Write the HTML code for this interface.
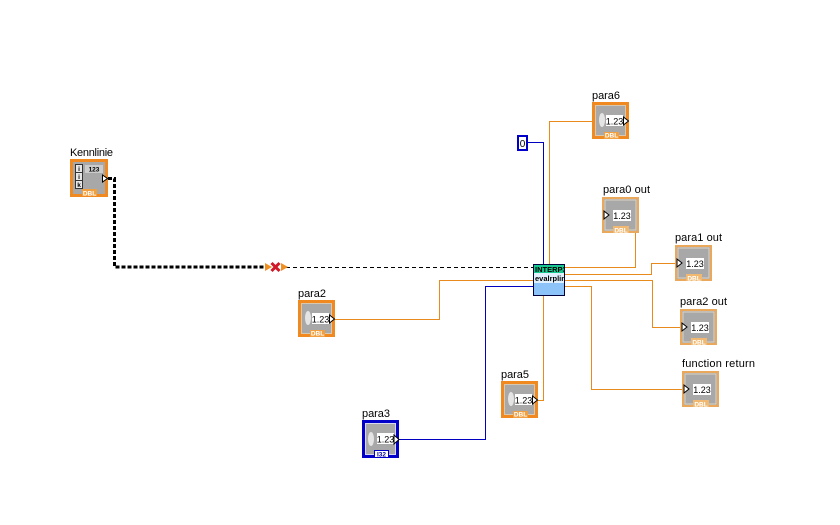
<!DOCTYPE html>
<html><head><meta charset="utf-8"><style>
html,body{margin:0;padding:0;background:#fff}
svg{display:block}
text{font-family:"Liberation Sans",sans-serif;fill:#000}
.l{font-size:11px}
.v{font-size:9px;text-anchor:middle}
.d{font-size:6.5px;font-weight:bold;fill:#fff;text-anchor:middle}
</style></head><body>
<svg width="840" height="525" viewBox="0 0 840 525" xmlns="http://www.w3.org/2000/svg" shape-rendering="crispEdges">
<defs>
<g id="ctl">
<rect x="1.5" y="1.5" width="34" height="34" fill="#a8a8a8" stroke="#f08a20" stroke-width="3"/>
<rect x="3.5" y="3.5" width="30" height="30" fill="none" stroke="#d8c8b0" stroke-width="1"/>
<rect x="12" y="30" width="15" height="7" fill="#f0a040"/>
<ellipse cx="10" cy="18" rx="3" ry="7" fill="#e4e4e4" shape-rendering="auto"/>
<rect x="14" y="13" width="17" height="11" fill="#fff"/>
<path d="M31.500 15L36.500 19L31.500 23Z" fill="#fff" stroke="#000" stroke-width="1" shape-rendering="auto"/>
</g>
<g id="ind">
<rect x="1" y="1" width="35" height="34" fill="#a8a8a8" stroke="#eaa85c" stroke-width="2"/>
<rect x="3" y="3" width="31" height="30" fill="none" stroke="#dcd4c4" stroke-width="1"/>
<rect x="11" y="29" width="16" height="7" fill="#f0b870"/>
<rect x="11" y="13" width="18" height="11" fill="#fff"/>
<path d="M2 14L7 18L2 22Z" fill="#fff" stroke="#000" stroke-width="1" shape-rendering="auto"/>
</g>
</defs>

<!-- wires -->
<g fill="none" stroke="#e88a1c" stroke-width="1">
<path d="M592 121.500H549.500V265"/>
<path d="M565 267.500H635.500V233"/>
<path d="M565 274.500H651.500V263.500H677"/>
<path d="M565 280.500H652.500V327.500H682"/>
<path d="M565 286.500H591.500V389.500H684"/>
<path d="M335 319.500H439.500V280.500H534"/>
<path d="M538 400.500H543.500V296"/>
</g>
<g fill="none" stroke="#0000c0" stroke-width="1">
<path d="M527 142.500H543.500V265"/>
<path d="M399 439.500H485.500V286.500H534"/>
</g>
<path d="M286 267.500H534" stroke="#000" stroke-width="1" stroke-dasharray="4 3" fill="none"/>
<path d="M108 178.500H114.500V267H266" fill="none" stroke="#000" stroke-width="3" stroke-dasharray="4 2"/>

<!-- broken wire marker -->
<g shape-rendering="auto">
<path d="M265 263L272 267L265 271Z" fill="#f09020"/>
<path d="M281 263L288 267L281 271Z" fill="#f09020"/>
<path d="M271.500 263L279.500 271M279.500 263L271.500 271" stroke="#d01828" stroke-width="3" fill="none"/>
</g>

<!-- Kennlinie -->
<rect x="71.500" y="160.500" width="35" height="35" fill="#a8a8a8" stroke="#f08a20" stroke-width="3"/>
<rect x="75.500" y="164.500" width="7" height="24" fill="#e8e8e8" stroke="#333" stroke-width="1"/>
<path d="M75 172.500H83M75 180.500H83" stroke="#333" stroke-width="1"/>
<text x="79" y="171" font-size="6.500" font-weight="bold" text-anchor="middle">i</text>
<text x="79" y="179" font-size="6.500" font-weight="bold" text-anchor="middle">i</text>
<text x="79" y="187" font-size="6.500" font-weight="bold" text-anchor="middle">k</text>
<rect x="85" y="165" width="18" height="8" fill="#ccc"/>
<text x="94" y="171.500" font-size="6.500" font-weight="bold" text-anchor="middle">123</text>
<path d="M102.500 175L107.500 178.500L102.500 182Z" fill="#fff" stroke="#000" shape-rendering="auto"/>
<rect x="82" y="189" width="15" height="7" fill="#f0a040"/>
<text class="d" x="89.500" y="195.500">DBL</text>
<text class="l" x="70" y="156" textLength="43">Kennlinie</text>

<!-- controls -->
<use href="#ctl" x="592" y="102"/><text class="v" x="614.500" y="124.500">1.23</text><text class="d" x="611.500" y="137.500">DBL</text><text class="l" x="592" y="99" textLength="28">para6</text>
<use href="#ctl" x="298" y="300"/><text class="v" x="320.500" y="322.500">1.23</text><text class="d" x="317.500" y="335.500">DBL</text><text class="l" x="298" y="297" textLength="28">para2</text>
<use href="#ctl" x="501" y="381"/><text class="v" x="523.500" y="403.500">1.23</text><text class="d" x="520.500" y="416.500">DBL</text><text class="l" x="501" y="378" textLength="28">para5</text>

<!-- para3 -->
<rect x="363.500" y="421.500" width="34" height="35" fill="#a8a8a8" stroke="#0000c8" stroke-width="3"/>
<rect x="365.500" y="423.500" width="30" height="31" fill="none" stroke="#d8d8f0" stroke-width="1"/>
<ellipse cx="371" cy="439" rx="3" ry="7" fill="#e4e4e4" shape-rendering="auto"/>
<rect x="377" y="433" width="17" height="11" fill="#fff"/>
<path d="M394 435L399 439.500L394 444Z" fill="#fff" stroke="#000" shape-rendering="auto"/>
<rect x="374.500" y="450.500" width="14" height="7" fill="#fff" stroke="#0000c8"/>
<text x="381.500" y="456.500" font-size="6.500" font-weight="bold" text-anchor="middle" style="fill:#0000a0">I32</text>
<text class="v" x="385.500" y="442.500">1.23</text>
<text class="l" x="362" y="417" textLength="28">para3</text>

<!-- indicators -->
<use href="#ind" x="602" y="197"/><text class="v" x="622" y="219">1.23</text><text class="d" x="621" y="232.500">DBL</text><text class="l" x="603" y="193" textLength="47">para0 out</text>
<use href="#ind" x="675" y="245"/><text class="v" x="695" y="267">1.23</text><text class="d" x="694" y="280.500">DBL</text><text class="l" x="675" y="241" textLength="47">para1 out</text>
<use href="#ind" x="680" y="309"/><text class="v" x="700" y="331">1.23</text><text class="d" x="699" y="344.500">DBL</text><text class="l" x="680" y="305" textLength="47">para2 out</text>
<use href="#ind" x="682" y="371"/><text class="v" x="702" y="393">1.23</text><text class="d" x="701" y="406.500">DBL</text><text class="l" x="682" y="367" textLength="73">function return</text>

<!-- constant 0 -->
<rect x="518" y="136" width="9" height="14" fill="#fff" stroke="#0000c8" stroke-width="2"/>
<text x="522.500" y="147" font-size="10" text-anchor="middle">0</text>

<!-- call library node -->
<rect x="533.500" y="264.500" width="31" height="31" fill="#8cc4fa" stroke="#00003c" stroke-width="1"/>
<rect x="534" y="265" width="30" height="8" fill="#18c890"/>
<rect x="534" y="273" width="30" height="10" fill="#e0f0fc"/>
<svg x="535" y="265" width="29" height="20">
<text x="0" y="7" font-size="7.500" font-weight="bold">INTERP3</text>
<text x="0" y="16" font-size="7.500" font-weight="bold">evalrplin</text>
</svg>
</svg>
</body></html>
